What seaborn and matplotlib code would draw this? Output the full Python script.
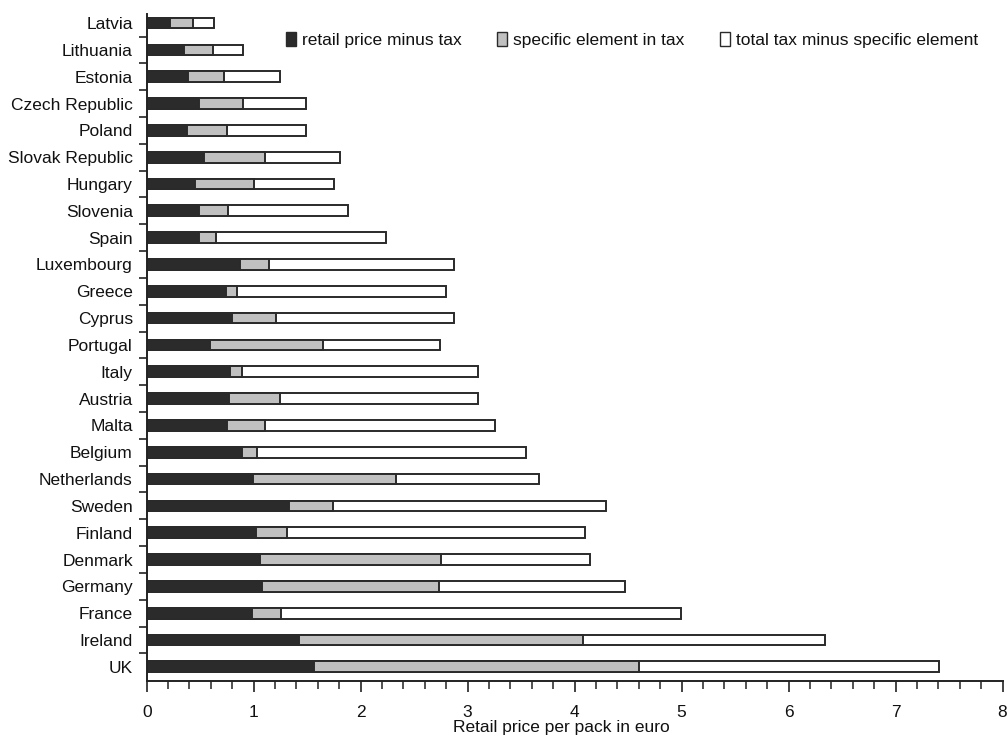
import matplotlib
matplotlib.use("Agg")
import matplotlib.pyplot as plt
from matplotlib.patches import Patch
from matplotlib.ticker import MultipleLocator, FixedLocator
import seaborn as sns
import numpy as np
import pandas as pd

countries = ["Latvia", "Lithuania", "Estonia", "Czech Republic", "Poland",
             "Slovak Republic", "Hungary", "Slovenia", "Spain", "Luxembourg",
             "Greece", "Cyprus", "Portugal", "Italy", "Austria", "Malta",
             "Belgium", "Netherlands", "Sweden", "Finland", "Denmark",
             "Germany", "France", "Ireland", "UK"]
retail_minus_tax = [0.22, 0.35, 0.39, 0.49, 0.38, 0.54, 0.45, 0.49, 0.49, 0.87,
                    0.74, 0.80, 0.59, 0.78, 0.77, 0.75, 0.89, 0.99, 1.33, 1.02,
                    1.06, 1.08, 0.98, 1.42, 1.56]
specific_element = [0.21, 0.27, 0.33, 0.41, 0.37, 0.57, 0.55, 0.27, 0.16, 0.27,
                    0.10, 0.41, 1.06, 0.11, 0.48, 0.36, 0.14, 1.34, 0.41, 0.29,
                    1.69, 1.65, 0.28, 2.66, 3.04]
other_tax = [0.20, 0.28, 0.53, 0.59, 0.74, 0.70, 0.75, 1.12, 1.59, 1.73,
             1.96, 1.66, 1.09, 2.21, 1.85, 2.15, 2.52, 1.34, 2.55, 2.79,
             1.39, 1.74, 3.73, 2.26, 2.81]
series_labels = ["retail price minus tax", "specific element in tax",
                 "total tax minus specific element"]
xticks = [0, 1, 2, 3, 4, 5, 6, 7, 8]

sns.set_theme(style="ticks")
plt.rcParams['font.family'] = ['Liberation Sans', 'DejaVu Sans']

df = pd.DataFrame({"country": countries,
                   "retail": retail_minus_tax,
                   "specific": specific_element,
                   "other": other_tax})
df["c1"] = df["retail"]
df["c2"] = df["retail"] + df["specific"]
df["c3"] = df["c2"] + df["other"]

dark = "#2b2b2b"
grey = "#c0c0c0"
edge = "#2a2a2a"

fig = plt.figure(figsize=(10.07, 7.35), dpi=100)
ax = fig.add_axes([146.7/1007, 54/735, (1002.5-146.7)/1007, 667/735])

for col, colr in [("c3", "white"), ("c2", grey), ("c1", dark)]:
    sns.barplot(data=df, x=col, y="country", orient="h", color=colr,
                saturation=1, edgecolor=edge, linewidth=1.4, width=0.4,
                ax=ax, errorbar=None)

ax.set_xlim(0, 8)
ax.set_ylim(24.53, -0.34)
ax.xaxis.set_major_locator(FixedLocator(xticks))
ax.xaxis.set_minor_locator(MultipleLocator(0.2))
ax.yaxis.set_minor_locator(FixedLocator(np.arange(0.5, 24.0, 1.0)))

for s in ["top", "right"]:
    ax.spines[s].set_visible(False)
for s in ["left", "bottom"]:
    ax.spines[s].set_linewidth(1.4)
    ax.spines[s].set_color("#222222")

ax.tick_params(axis="y", which="major", length=0, pad=10, labelsize=12.5,
               labelcolor="#111111")
ax.tick_params(axis="y", which="minor", length=6, width=1.2, color="#222222")
ax.tick_params(axis="x", which="major", length=8, width=1.2, pad=9,
               labelsize=12.5, color="#222222", labelcolor="#111111")
ax.tick_params(axis="x", which="minor", length=5.5, width=1.1, color="#222222")

ax.set_ylabel("")
ax.set_xlabel("Retail price per pack in euro", fontsize=12.5, color="#111111")
ax.xaxis.set_label_coords(0.484, -0.059)

handles = [Patch(facecolor=dark, edgecolor=edge, linewidth=1.0),
           Patch(facecolor=grey, edgecolor=edge, linewidth=1.0),
           Patch(facecolor="white", edgecolor=edge, linewidth=1.0)]
fig.legend(handles, series_labels, loc="center left",
           bbox_to_anchor=(286.0/1007, 1 - 40/735), ncol=3, frameon=False,
           fontsize=12.5, handlelength=0.6, handleheight=0.85,
           handletextpad=0.35, columnspacing=2.0, borderpad=0,
           borderaxespad=0, labelcolor="#111111")

fig.savefig("out.png", dpi=100)
